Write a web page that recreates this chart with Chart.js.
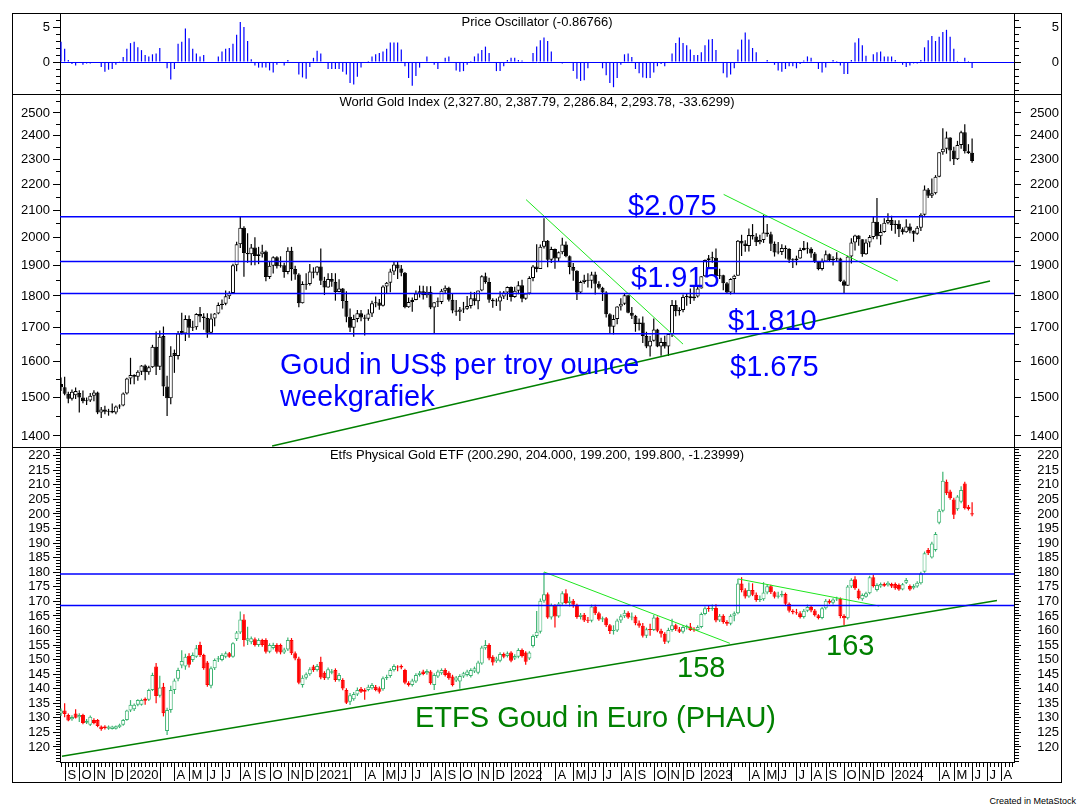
<!DOCTYPE html>
<html>
<head>
<meta charset="utf-8">
<script src="https://cdn.jsdelivr.net/npm/chart.js"></script>
<style>
body { margin: 0; background: #fff; font-family: "Liberation Sans", Arial, sans-serif; }
#page { position: relative; width: 1079px; height: 811px; overflow: hidden; }
canvas { position: absolute; left: 12px; }
.rule { position: absolute; background: #000; }
#credit { position: absolute; right: 3px; top: 796px; font-size: 9px; color: #000; }
</style>
</head>
<body>
<div id="page">
  <canvas id="osc" width="1047" height="80" style="top:14px"></canvas>
  <canvas id="gold" width="1047" height="352" style="top:95px"></canvas>
  <canvas id="etf" width="1047" height="334" style="top:448px"></canvas>
  <div class="rule" style="left:12px;top:13px;width:1050px;height:1px"></div>
  <div class="rule" style="left:12px;top:94px;width:1050px;height:1px"></div>
  <div class="rule" style="left:12px;top:447px;width:1050px;height:1px"></div>
  <div class="rule" style="left:12px;top:782px;width:1050px;height:1px"></div>
  <div class="rule" style="left:12px;top:13px;width:1px;height:770px"></div>
  <div class="rule" style="left:1061px;top:13px;width:1px;height:770px"></div>
  <div id="credit">Created in MetaStock</div>
</div>
<script>
// weekly bars, first week ends Fri 30 Aug 2019, last one 7 Jun 2024
const firstWeek = Date.UTC(2019, 7, 30);

const oscValues = [
  2.9, 1.9, 0.3, -0.3, -0.5, 0, -0.4, -0.2, -0.2, 0,
  0, -0.7, -1.4, -1.1, -1.0, -0.4, 0.1, 0.7, 1.9, 2.7,
  2.9, 2.1, 1.7, 1.0, 0.8, 1.1, 1.2, 2.0, 0, -0.9,
  -2.5, -1.0, 2.6, 2.9, 4.8, 3.4, 1.9, 1.2, 0.8, 1.0,
  0, 0, -0.1, 0.8, 1.5, 1.9, 2.0, 2.6, 3.9, 5.7,
  5.0, 3.0, 0.4, -0.5, -0.8, -0.8, -0.8, -1.2, -1.5, -0.4,
  0, -0.5, 0.3, 0, 0, -1.8, -2.2, -2.4, -0.7, 0.6,
  1.6, 1.2, 0, -1.0, -1.0, -1.0, -1.0, -1.4, -1.8, -3.0,
  -3.2, -2.1, -0.8, 0, 0.15, 0.8, 1.1, 1.3, 1.5, 1.9,
  2.8, 2.8, 2.8, 1.8, -0.6, -2.3, -3.4, -2.0, -0.8, 0,
  0.8, 0, -0.4, -1.0, 0, 0.6, 0.8, 0, -1.2, -1.4,
  -1.3, -0.4, 0.15, 0.8, 1.2, 1.7, 2.2, 1.3, -0.15, -1.3,
  -1.3, -0.6, 0.3, 0.6, 0.6, 0.3, 0.2, 0, 0, 1.3,
  2.2, 3.1, 3.5, 3.0, 1.5, 0, 0, -0.2, 0, 0,
  -1.3, -2.4, -2.7, -2.6, -0.9, 0, 0, 0, -0.9, -1.9,
  -3.0, -3.6, -2.3, -0.4, 1.1, 1.2, 0.7, -1.0, -1.6, -2.2,
  -2.3, -2.3, -1.5, -0.6, -0.3, -0.6, 0, 1.2, 2.7, 3.5,
  2.7, 2.4, 1.8, 1.0, 1.0, 1.4, 2.4, 3.2, 3.3, 1.7,
  0, -1.6, -2.2, -1.8, -0.9, 1.8, 3.2, 4.2, 3.2, 2.0,
  1.4, 0, 0, 0.3, 0, -0.4, -1.2, -1.4, -1.0, -0.6,
  -0.6, -0.9, -0.3, 0.2, 0.8, 0.6, 0, -1.0, -1.5, -0.8,
  0, 0.3, 0.15, -0.5, -1.7, -1.7, 0.3, 2.8, 3.4, 2.4,
  0.9, 0, 1.1, 1.4, 1.5, 0.8, 0.8, 0.8, 0.3, 0,
  -0.4, -0.7, -0.5, -0.2, -0.2, 0.3, 2.1, 3.1, 3.7, 3.0,
  3.6, 4.3, 4.6, 3.6, 1.9, 0.15, 0, 0.6, 0.15, -0.87
];

const goldOpen = [
  1537, 1528, 1510, 1497, 1506, 1512, 1500, 1490, 1492, 1505,
  1514, 1460, 1468, 1462, 1464, 1460, 1476, 1479, 1511, 1552,
  1562, 1557, 1571, 1589, 1570, 1584, 1643, 1585, 1675, 1530,
  1498, 1625, 1616, 1690, 1683, 1727, 1700, 1702, 1743, 1735,
  1730, 1685, 1729, 1744, 1771, 1775, 1799, 1810, 1902, 1975,
  2035, 1944, 1940, 1964, 1934, 1940, 1950, 1862, 1900, 1930,
  1899, 1902, 1879, 1952, 1889, 1871, 1777, 1837, 1839, 1881,
  1877, 1898, 1850, 1828, 1856, 1847, 1813, 1824, 1784, 1734,
  1700, 1727, 1745, 1732, 1728, 1744, 1777, 1779, 1769, 1831,
  1843, 1881, 1905, 1891, 1877, 1764, 1781, 1787, 1808, 1815,
  1802, 1814, 1763, 1780, 1781, 1817, 1827, 1788, 1754, 1750,
  1757, 1759, 1768, 1793, 1783, 1818, 1865, 1846, 1788, 1783,
  1782, 1798, 1811, 1829, 1797, 1817, 1835, 1791, 1808, 1859,
  1898, 1889, 1966, 1988, 1921, 1958, 1925, 1947, 1974, 1933,
  1896, 1883, 1811, 1846, 1853, 1850, 1871, 1840, 1827, 1811,
  1742, 1703, 1727, 1766, 1775, 1802, 1747, 1737, 1712, 1716,
  1675, 1644, 1661, 1695, 1644, 1657, 1644, 1681, 1771, 1751,
  1755, 1797, 1799, 1793, 1798, 1824, 1865, 1920, 1926, 1928,
  1865, 1868, 1842, 1811, 1856, 1867, 1988, 1978, 1969, 2008,
  2003, 1982, 1990, 2017, 2011, 1977, 1946, 1948, 1962, 1958,
  1921, 1919, 1925, 1955, 1962, 1959, 1943, 1914, 1889, 1915,
  1940, 1919, 1924, 1925, 1848, 1833, 1932, 1981, 2006, 1993,
  1940, 1981, 2001, 2057, 2004, 2019, 2053, 2063, 2045, 2049,
  2029, 2018, 2039, 2024, 2013, 2035, 2083, 2179, 2155, 2165,
  2230, 2330, 2344, 2392, 2337, 2301, 2360, 2415, 2334, 2327.80
];
const goldHigh = [
  1555, 1557, 1516, 1522, 1527, 1520, 1519, 1500, 1512, 1520,
  1516, 1475, 1478, 1470, 1484, 1479, 1482, 1514, 1554, 1611,
  1564, 1575, 1590, 1592, 1588, 1649, 1689, 1692, 1704, 1560,
  1645, 1635, 1690, 1747, 1739, 1738, 1722, 1745, 1765, 1745,
  1745, 1744, 1746, 1779, 1789, 1818, 1815, 1907, 1984, 2075,
  2040, 2015, 1976, 2000, 1966, 1973, 1953, 1917, 1933, 1933,
  1933, 1911, 1965, 1966, 1900, 1875, 1848, 1875, 1906, 1895,
  1899, 1960, 1863, 1875, 1876, 1875, 1855, 1826, 1815, 1760,
  1740, 1755, 1755, 1740, 1758, 1785, 1798, 1790, 1835, 1846,
  1890, 1913, 1916, 1903, 1879, 1795, 1795, 1818, 1834, 1833,
  1832, 1832, 1780, 1795, 1823, 1834, 1830, 1809, 1787, 1765,
  1781, 1800, 1814, 1813, 1818, 1868, 1877, 1860, 1793, 1792,
  1815, 1816, 1831, 1831, 1830, 1848, 1853, 1810, 1865, 1903,
  1975, 1974, 2070, 1990, 1966, 1960, 1950, 1998, 1985, 1936,
  1910, 1885, 1850, 1870, 1875, 1880, 1880, 1848, 1830, 1815,
  1745, 1740, 1767, 1793, 1808, 1802, 1765, 1740, 1729, 1735,
  1688, 1675, 1729, 1697, 1670, 1676, 1682, 1787, 1786, 1764,
  1805, 1810, 1824, 1830, 1833, 1865, 1922, 1937, 1949, 1960,
  1890, 1870, 1846, 1858, 1870, 1990, 2009, 1989, 2032, 2048,
  2015, 2009, 2082, 2048, 2020, 1985, 1983, 1975, 1971, 1961,
  1926, 1935, 1963, 1987, 1982, 1965, 1948, 1916, 1925, 1953,
  1943, 1933, 1947, 1928, 1853, 1935, 1997, 2009, 2007, 1993,
  1993, 2008, 2075, 2146, 2047, 2070, 2088, 2079, 2062, 2062,
  2036, 2066, 2050, 2025, 2041, 2088, 2195, 2185, 2223, 2236,
  2330, 2432, 2418, 2393, 2353, 2378, 2422, 2450, 2364, 2387.79
];
const goldLow = [
  1518, 1506, 1485, 1492, 1496, 1460, 1485, 1480, 1488, 1490,
  1456, 1446, 1456, 1452, 1458, 1456, 1470, 1477, 1508, 1536,
  1536, 1546, 1562, 1547, 1563, 1582, 1562, 1576, 1504, 1451,
  1482, 1568, 1606, 1680, 1660, 1670, 1690, 1694, 1717, 1694,
  1670, 1682, 1705, 1742, 1757, 1770, 1790, 1808, 1882, 1962,
  1863, 1911, 1902, 1902, 1906, 1929, 1848, 1856, 1874, 1891,
  1894, 1860, 1872, 1850, 1853, 1764, 1776, 1820, 1834, 1858,
  1868, 1836, 1803, 1827, 1830, 1785, 1812, 1760, 1717, 1687,
  1673, 1717, 1720, 1677, 1722, 1733, 1764, 1756, 1766, 1808,
  1812, 1869, 1856, 1865, 1761, 1762, 1750, 1786, 1795, 1789,
  1794, 1758, 1684, 1765, 1774, 1808, 1782, 1745, 1737, 1721,
  1746, 1756, 1760, 1770, 1758, 1815, 1840, 1778, 1762, 1768,
  1753, 1790, 1787, 1782, 1794, 1806, 1780, 1788, 1805, 1848,
  1878, 1889, 1960, 1895, 1910, 1890, 1915, 1940, 1930, 1872,
  1850, 1787, 1807, 1840, 1828, 1825, 1805, 1822, 1784, 1732,
  1681, 1680, 1711, 1754, 1771, 1745, 1727, 1688, 1692, 1654,
  1639, 1615, 1659, 1642, 1617, 1638, 1616, 1672, 1736, 1738,
  1748, 1769, 1774, 1785, 1795, 1824, 1862, 1896, 1911, 1861,
  1856, 1819, 1808, 1805, 1809, 1867, 1934, 1949, 1950, 1992,
  1969, 1975, 1980, 2002, 1951, 1932, 1940, 1937, 1925, 1910,
  1893, 1902, 1924, 1953, 1942, 1928, 1910, 1885, 1884, 1913,
  1915, 1901, 1913, 1846, 1810, 1833, 1908, 1953, 1970, 1931,
  1938, 1965, 1993, 1993, 1973, 2016, 2047, 2024, 2013, 2001,
  2010, 2016, 2015, 1984, 2009, 2023, 2079, 2146, 2146, 2160,
  2228, 2319, 2324, 2292, 2277, 2298, 2344, 2325, 2323, 2286.84
];
const goldClose = [
  1528, 1510, 1497, 1516, 1518, 1500, 1490, 1492, 1505, 1514,
  1460, 1468, 1462, 1464, 1460, 1476, 1479, 1511, 1552, 1562,
  1557, 1571, 1589, 1570, 1584, 1643, 1585, 1673, 1530, 1498,
  1617, 1616, 1683, 1683, 1727, 1700, 1702, 1743, 1735, 1730,
  1685, 1729, 1744, 1771, 1775, 1799, 1810, 1902, 1975, 2035,
  1944, 1940, 1964, 1934, 1940, 1950, 1862, 1900, 1930, 1899,
  1902, 1879, 1952, 1889, 1871, 1777, 1839, 1839, 1881, 1877,
  1898, 1850, 1828, 1856, 1847, 1813, 1824, 1784, 1734, 1700,
  1727, 1745, 1732, 1728, 1744, 1777, 1779, 1769, 1831, 1843,
  1881, 1905, 1891, 1877, 1764, 1781, 1787, 1808, 1815, 1802,
  1814, 1763, 1780, 1781, 1817, 1827, 1788, 1754, 1750, 1757,
  1759, 1768, 1793, 1783, 1818, 1865, 1846, 1788, 1783, 1782,
  1798, 1811, 1829, 1797, 1817, 1835, 1791, 1808, 1859, 1898,
  1889, 1966, 1988, 1921, 1958, 1925, 1947, 1974, 1933, 1896,
  1883, 1811, 1846, 1853, 1850, 1871, 1840, 1827, 1811, 1742,
  1703, 1727, 1766, 1775, 1802, 1747, 1737, 1712, 1716, 1675,
  1644, 1661, 1695, 1644, 1657, 1644, 1681, 1771, 1751, 1755,
  1797, 1799, 1793, 1798, 1824, 1865, 1920, 1926, 1928, 1865,
  1868, 1842, 1811, 1856, 1867, 1988, 1978, 1969, 2008, 2003,
  1982, 1990, 2017, 2011, 1977, 1946, 1948, 1962, 1958, 1921,
  1919, 1925, 1955, 1962, 1959, 1943, 1914, 1889, 1915, 1940,
  1919, 1924, 1925, 1848, 1833, 1932, 1981, 2006, 1993, 1940,
  1981, 2001, 2057, 2004, 2019, 2053, 2063, 2045, 2049, 2029,
  2018, 2039, 2024, 2013, 2035, 2083, 2179, 2155, 2165, 2230,
  2330, 2344, 2392, 2337, 2301, 2360, 2415, 2334, 2327, 2293.78
];

const etfOpen = [
  131.5, 132.5, 131.0, 129.5, 131.5, 130.2, 131.0, 128.3, 127.6, 129.3,
  129.3, 127.0, 127.0, 126.3, 126.2, 126.3, 126.8, 127.6, 129.3, 132.5,
  133.0, 134.5, 134.5, 136.6, 136.2, 139.6, 147.6, 137.6, 140.7, 125.5,
  132.7, 139.6, 143.4, 148.0, 147.6, 151.3, 149.9, 151.0, 155.0, 151.6,
  149.0, 141.0, 147.0, 150.0, 149.9, 151.0, 152.2, 151.0, 157.0, 159.3,
  163.8, 156.5, 156.0, 157.0, 155.0, 156.7, 156.7, 152.7, 154.0, 155.0,
  155.0, 152.4, 153.5, 156.7, 152.2, 150.4, 141.3, 143.8, 145.0, 147.6,
  146.4, 149.3, 145.5, 143.6, 145.5, 146.4, 143.0, 143.0, 139.6, 135.5,
  136.4, 138.0, 140.0, 139.6, 139.6, 140.2, 140.7, 140.2, 139.8, 143.6,
  144.4, 146.4, 147.5, 147.8, 146.4, 142.1, 141.3, 142.5, 144.7, 145.9,
  145.3, 145.9, 141.3, 144.2, 145.3, 146.4, 145.5, 144.2, 142.8, 142.5,
  144.2, 144.7, 144.4, 145.9, 145.5, 148.7, 153.9, 155.0, 151.0, 149.4,
  149.6, 151.9, 151.2, 152.4, 150.4, 151.0, 153.3, 152.4, 150.4, 154.7,
  158.1, 159.6, 170.2, 172.4, 164.5, 168.7, 164.8, 169.3, 172.8, 169.4,
  170.2, 168.8, 164.6, 165.4, 163.4, 163.3, 168.2, 165.9, 163.8, 164.2,
  161.8, 159.8, 160.0, 163.4, 164.9, 166.1, 164.5, 164.7, 162.5, 161.6,
  158.2, 160.4, 160.2, 164.5, 159.9, 158.9, 156.1, 160.2, 161.8, 160.4,
  159.6, 161.2, 161.4, 160.2, 160.1, 161.2, 165.7, 167.6, 167.4, 167.7,
  163.4, 165.1, 162.9, 162.3, 165.1, 165.9, 176.1, 173.8, 171.7, 173.9,
  172.3, 170.5, 170.7, 173.0, 175.2, 173.1, 171.6, 172.0, 172.5, 169.2,
  166.8, 166.3, 165.9, 164.6, 166.8, 168.1, 166.9, 165.2, 164.3, 167.6,
  170.2, 169.5, 170.6, 170.9, 165.0, 164.2, 175.1, 177.6, 173.7, 170.7,
  171.6, 172.8, 178.3, 173.9, 175.1, 176.0, 175.5, 176.0, 176.0, 175.6,
  174.1, 176.4, 175.3, 174.5, 175.1, 176.2, 180.2, 187.6, 185.1, 187.6,
  197.0, 201.1, 211.1, 207.7, 205.0, 201.6, 204.2, 210.5, 202.5, 200.29
];
const etfHigh = [
  133.2, 135.0, 131.5, 130.9, 133.0, 131.6, 131.4, 129.6, 130.8, 129.9,
  129.6, 127.4, 127.5, 127.4, 127.3, 127.4, 128.0, 129.6, 132.8, 136.1,
  134.9, 136.4, 136.6, 137.0, 140.0, 145.5, 148.8, 144.5, 142.0, 133.5,
  141.0, 143.5, 147.2, 153.2, 152.0, 152.2, 152.4, 155.0, 156.1, 152.0,
  149.5, 147.6, 150.4, 151.2, 152.2, 152.8, 152.6, 156.0, 159.8, 166.5,
  165.6, 161.3, 157.9, 157.6, 157.3, 157.2, 157.3, 155.6, 155.8, 155.6,
  155.5, 154.1, 157.6, 157.4, 152.8, 151.0, 144.6, 145.6, 147.4, 148.2,
  148.5, 151.0, 146.0, 147.3, 146.8, 147.0, 145.4, 143.6, 140.2, 138.5,
  138.9, 140.4, 140.6, 140.2, 141.4, 142.0, 141.3, 140.8, 144.2, 144.8,
  147.0, 148.4, 148.1, 148.3, 146.9, 142.6, 143.4, 145.3, 146.1, 146.5,
  146.7, 146.4, 145.3, 146.5, 147.0, 147.0, 146.0, 144.8, 144.4, 145.0,
  145.8, 146.5, 147.0, 147.6, 149.6, 154.8, 156.7, 155.6, 151.5, 151.0,
  152.5, 152.4, 152.8, 152.9, 151.8, 153.9, 153.8, 152.9, 152.9, 158.6,
  166.7, 171.0, 180.0, 173.0, 169.3, 169.0, 169.8, 173.5, 174.2, 171.6,
  170.8, 169.2, 166.0, 166.0, 164.6, 168.9, 168.8, 166.4, 164.8, 164.6,
  162.2, 161.8, 164.0, 165.6, 167.0, 166.6, 166.2, 165.2, 163.4, 162.6,
  161.0, 162.3, 165.3, 164.8, 160.6, 159.4, 160.9, 164.0, 162.3, 161.2,
  161.9, 162.0, 162.6, 161.1, 161.8, 166.2, 168.2, 168.7, 168.9, 169.0,
  165.7, 165.6, 163.5, 165.6, 166.5, 177.8, 178.3, 174.5, 176.5, 176.2,
  173.0, 172.0, 176.6, 175.8, 175.7, 173.5, 173.3, 173.6, 173.0, 169.6,
  167.3, 167.4, 166.6, 167.4, 168.9, 168.6, 167.4, 165.6, 168.1, 170.8,
  170.7, 171.1, 171.6, 171.3, 165.6, 175.6, 177.9, 178.6, 174.3, 172.7,
  173.3, 178.8, 179.1, 176.2, 176.5, 176.5, 176.9, 176.4, 176.5, 176.1,
  176.3, 178.0, 175.8, 175.9, 176.9, 180.2, 187.1, 188.3, 190.5, 193.8,
  201.7, 214.5, 211.8, 208.3, 205.6, 206.5, 209.5, 211.1, 203.1, 204.0
];
const etfLow = [
  130.6, 130.2, 128.8, 129.0, 129.8, 128.6, 127.8, 127.9, 127.2, 127.8,
  126.8, 125.6, 126.0, 125.9, 126.0, 126.0, 126.5, 127.3, 129.0, 132.0,
  132.4, 134.0, 134.2, 134.5, 135.8, 139.2, 135.0, 137.0, 130.5, 124.1,
  131.8, 138.2, 142.6, 147.0, 146.5, 147.3, 149.2, 150.6, 150.9, 146.5,
  140.7, 140.2, 146.4, 149.2, 149.4, 150.5, 150.6, 150.6, 156.4, 158.8,
  154.5, 155.0, 155.3, 154.5, 154.4, 154.4, 152.1, 152.2, 153.5, 152.1,
  151.8, 151.9, 153.0, 151.6, 149.8, 141.5, 140.4, 143.2, 144.5, 145.8,
  145.9, 143.3, 143.0, 143.1, 145.0, 142.4, 142.5, 139.5, 134.8, 134.4,
  135.9, 137.5, 138.5, 136.2, 139.1, 139.7, 139.1, 138.4, 139.3, 143.0,
  143.8, 145.9, 146.0, 146.7, 141.5, 140.8, 140.8, 142.0, 144.2, 144.6,
  144.8, 141.4, 139.6, 143.7, 144.8, 144.2, 143.1, 140.8, 142.3, 140.0,
  143.7, 144.2, 143.9, 145.4, 145.0, 148.2, 153.4, 149.8, 148.0, 148.9,
  149.1, 150.5, 150.7, 149.1, 149.9, 150.5, 150.7, 148.2, 149.9, 154.2,
  157.4, 159.0, 169.5, 164.0, 163.8, 161.0, 164.4, 168.8, 169.0, 168.2,
  167.8, 164.0, 163.8, 162.9, 162.6, 162.8, 165.3, 163.3, 162.9, 161.2,
  158.8, 158.6, 159.5, 162.6, 164.3, 164.0, 163.5, 161.8, 160.9, 157.6,
  157.4, 158.2, 159.8, 159.4, 157.6, 155.4, 155.6, 159.6, 159.8, 159.1,
  159.0, 160.3, 159.8, 159.6, 159.8, 160.8, 165.2, 166.4, 166.8, 162.8,
  162.9, 162.3, 161.6, 161.8, 163.2, 165.6, 173.1, 171.0, 171.2, 171.8,
  169.9, 169.8, 170.2, 172.4, 172.5, 171.0, 171.0, 171.4, 168.7, 166.2,
  165.6, 165.4, 164.1, 164.1, 166.3, 166.3, 164.8, 163.8, 163.9, 167.2,
  169.0, 168.9, 170.1, 164.2, 161.8, 163.8, 174.6, 174.0, 170.6, 170.2,
  171.2, 172.4, 174.8, 173.4, 174.7, 175.0, 175.1, 174.6, 174.0, 173.6,
  173.8, 176.0, 173.6, 174.1, 174.7, 175.8, 179.8, 185.9, 184.7, 187.1,
  196.5, 200.6, 206.5, 204.9, 198.3, 201.1, 203.7, 201.5, 201.2, 199.2
];
const etfClose = [
  132.5, 131.3, 129.1, 130.3, 130.0, 131.0, 128.2, 129.0, 130.4, 128.2,
  127.2, 126.1, 126.5, 127.0, 127.0, 127.1, 127.6, 129.3, 132.5, 134.5,
  134.5, 136.1, 136.1, 135.9, 139.6, 144.7, 137.5, 140.4, 131.6, 132.7,
  139.6, 142.8, 146.4, 149.5, 151.0, 148.2, 151.6, 153.9, 151.6, 147.0,
  141.3, 147.0, 149.9, 150.5, 151.6, 152.2, 151.0, 155.6, 159.3, 163.8,
  156.7, 157.3, 157.3, 155.0, 156.7, 155.0, 152.7, 155.0, 155.0, 152.7,
  152.4, 153.5, 156.7, 152.2, 150.4, 142.1, 143.8, 145.0, 146.7, 146.4,
  147.8, 143.9, 143.6, 146.7, 146.0, 143.0, 144.7, 140.1, 135.2, 137.8,
  138.2, 139.6, 139.0, 139.0, 140.7, 141.3, 139.6, 139.0, 143.6, 144.0,
  146.4, 147.8, 147.3, 147.3, 142.1, 141.3, 142.8, 144.7, 145.5, 145.1,
  146.1, 141.9, 144.7, 145.9, 146.4, 144.7, 143.6, 141.3, 143.9, 144.4,
  145.3, 145.9, 146.4, 147.0, 149.0, 154.2, 155.0, 150.4, 149.0, 150.4,
  151.9, 151.0, 152.2, 149.6, 151.2, 153.3, 151.2, 149.3, 152.4, 158.1,
  159.6, 170.2, 172.4, 164.5, 168.7, 164.8, 169.3, 172.8, 169.4, 170.2,
  168.8, 164.6, 165.4, 163.4, 163.3, 168.2, 165.9, 163.8, 164.2, 161.8,
  159.8, 160.0, 163.4, 164.9, 166.1, 164.5, 164.7, 162.5, 161.6, 158.2,
  160.4, 160.2, 164.5, 159.9, 158.9, 156.1, 160.2, 161.8, 160.4, 159.6,
  161.2, 161.4, 160.2, 160.1, 161.2, 165.7, 167.6, 167.4, 167.7, 163.4,
  165.1, 162.9, 162.3, 165.1, 165.9, 176.1, 173.8, 171.7, 173.9, 172.3,
  170.5, 170.7, 173.0, 175.2, 173.1, 171.6, 172.0, 172.5, 169.2, 166.8,
  166.3, 165.9, 164.6, 166.8, 168.1, 166.9, 165.2, 164.3, 167.6, 170.2,
  169.5, 170.6, 170.9, 165.0, 164.2, 175.1, 177.4, 174.5, 171.1, 172.2,
  172.8, 178.3, 175.3, 175.6, 176.0, 175.4, 176.4, 175.1, 174.5, 174.1,
  175.9, 177.3, 174.1, 175.3, 176.4, 179.6, 186.5, 186.5, 189.9, 193.1,
  201.1, 211.4, 207.1, 205.4, 199.7, 206.0, 208.2, 202.0, 201.7, 199.8
];

// drawn support / resistance levels and trend lines: [week index, value]
const goldLevels = [2075, 1915, 1808, 1682];
const etfLevels = [179.4, 168.6];
const goldTrendMain = [[57.7, 1375], [253.9, 1849]];
const goldTrendDown = [[[127.1, 2140], [170.0, 1651]], [[181.1, 2160], [228.7, 1849]]];
const etfTrendMain = [[0.27, 116.8], [255.8, 170.3]];
const etfTrendDown = [[[132.0, 180.1], [182.8, 155.6]], [[185.1, 177.7], [223.6, 168.4]]];

// tick labels
const oscLabels = [0, 5];
const goldLabels = [1400, 1500, 1600, 1700, 1800, 1900, 2000, 2100, 2200, 2300, 2400, 2500];
const etfLabels = [120, 125, 130, 135, 140, 145, 150, 155, 160, 165, 170, 175, 180, 185, 190, 195, 200, 205, 210, 215, 220];
const monthLabels = ['S', 'O', 'N', 'D',
  '2020', null, '', 'A', 'M', 'J', 'J', 'A', 'S', 'O', 'N', 'D',
  '2021', null, '', 'A', 'M', 'J', 'J', 'A', 'S', 'O', 'N', 'D',
  '2022', null, '', 'A', 'M', 'J', 'J', 'A', 'S', 'O', 'N', 'D',
  '2023', null, '', 'A', 'M', 'J', 'J', 'A', 'S', 'O', 'N', 'D',
  '2024', null, '', 'A', 'M', 'J', 'J', 'A'];

const FONT = '"Liberation Sans", Arial, sans-serif';
const X_MIN = -0.27, X_MAX = 260.45;
const WEEK_MS = 7 * 24 * 3600 * 1000;
const BLUE = '#0000ff', LIME = '#1ee61e', DARK_GREEN = '#008000';
const ETF_UP = '#3cb371', ETF_DOWN = '#ff0000';

Chart.defaults.font.family = FONT;
Chart.defaults.color = '#000';

const panelText = {
  id: 'panelText',
  afterDraw(chart, args, opts) {
    const ctx = chart.ctx, a = chart.chartArea;
    ctx.save();
    ctx.textBaseline = 'alphabetic';
    ctx.fillStyle = '#000';
    ctx.font = '13px ' + FONT;
    ctx.textAlign = 'center';
    ctx.fillText(opts.title, (a.left + a.right) / 2, a.top + opts.titleY);
    ctx.textAlign = 'left';
    (opts.notes || []).forEach(n => {
      ctx.font = '29px ' + FONT;
      ctx.fillStyle = n.color;
      ctx.fillText(n.text, n.x, n.y);
    });
    ctx.restore();
  }
};

const timeAxis = {
  id: 'timeAxis',
  afterDraw(chart) {
    const ctx = chart.ctx, a = chart.chartArea, xs = chart.scales.x;
    ctx.save();
    ctx.strokeStyle = '#000';
    ctx.lineWidth = 1;
    ctx.beginPath();
    ctx.moveTo(a.left, a.bottom + 0.5);
    ctx.lineTo(a.right, a.bottom + 0.5);
    for (let k = 0; k <= Math.floor(X_MAX); k++) {
      const x = Math.round(xs.getPixelForValue(k)) + 0.5;
      ctx.moveTo(x, a.bottom);
      ctx.lineTo(x, a.bottom + 5);
    }
    ctx.stroke();
    ctx.font = '13px ' + FONT;
    ctx.fillStyle = '#000';
    ctx.textAlign = 'left';
    monthLabels.forEach((lab, m) => {
      if (lab === null) return;
      const k = Math.ceil((Date.UTC(2019, 8 + m, 1) - firstWeek) / WEEK_MS);
      const x = Math.round(xs.getPixelForValue(k)) + 0.5;
      ctx.beginPath();
      ctx.moveTo(x, a.bottom);
      ctx.lineTo(x, a.bottom + 19);
      ctx.stroke();
      if (lab) ctx.fillText(lab, x + 2, a.bottom + 17);
    });
    ctx.restore();
  }
};

function yAxis(pos, type, min, max, step, labels, zeroColor) {
  const isLabel = v => labels.some(l => Math.abs(l - v) < 1e-6);
  return {
    type: type, position: pos, min: min, max: max, bounds: 'data',
    afterBuildTicks(ax) {
      const t = [];
      for (let v = Math.ceil(min / step) * step; v <= max; v += step) t.push({ value: Math.round(v * 100) / 100 });
      ax.ticks = t;
    },
    afterFit(ax) {
      ax.width = pos === 'left' ? 48 : 45;
      ax.paddingTop = 0;
      ax.paddingBottom = 0;
    },
    ticks: {
      autoSkip: false, padding: 3, color: '#000', font: { size: 13 },
      crossAlign: pos === 'left' ? 'near' : 'far',
      callback: v => isLabel(v) ? String(v) : ''
    },
    grid: {
      drawOnChartArea: !!zeroColor,
      color: c => (zeroColor && c.tick && c.tick.value === 0) ? zeroColor : 'rgba(0,0,0,0)',
      lineWidth: 1,
      tickColor: '#000', tickLength: 7, tickWidth: 1,
      tickBorderDash: c => (c.tick && isLabel(c.tick.value)) ? [] : (pos === 'left' ? [0, 3, 4, 0] : [4, 10])
    },
    border: { display: true, color: '#000', width: 1 }
  };
}

const xAxis = { type: 'linear', min: X_MIN, max: X_MAX, display: false, offset: false, bounds: 'data' };

function segment(p0, p1, color, width) {
  return {
    type: 'line', data: [{ x: p0[0], y: p0[1] }, { x: p1[0], y: p1[1] }],
    borderColor: color, borderWidth: width, pointRadius: 0, tension: 0, yAxisID: 'yL', order: 0
  };
}

function levelLine(v) {
  return segment([X_MIN, v], [X_MAX, v], BLUE, 1.5);
}

function candles(open, high, low, close, upFill, upLine, downColor) {
  const up = open.map((o, i) => close[i] >= o);
  return [
    {
      type: 'bar', yAxisID: 'yL', order: 2, grouped: false, barThickness: 1.2, inflateAmount: 0,
      data: high.map((h, i) => ({ x: i, y: [low[i], h] })),
      backgroundColor: up.map(u => u ? upLine : downColor)
    },
    {
      type: 'bar', yAxisID: 'yL', order: 1, grouped: false, barThickness: 4, minBarLength: 1,
      borderWidth: 1, borderSkipped: false, inflateAmount: 0,
      data: open.map((o, i) => ({ x: i, y: [Math.min(o, close[i]), Math.max(o, close[i])] })),
      backgroundColor: up.map(u => u ? upFill : downColor),
      borderColor: up.map(u => u ? upLine : downColor)
    }
  ];
}

function baseOptions(yL, yR, textOpts, padBottom) {
  return {
    responsive: false, animation: false, events: [],
    layout: { padding: { left: 0, right: 0, top: 0, bottom: padBottom } },
    plugins: { legend: { display: false }, tooltip: { enabled: false }, panelText: textOpts },
    scales: { x: xAxis, yL: yL, yR: yR }
  };
}

// price oscillator
new Chart(document.getElementById('osc'), {
  type: 'bar',
  data: {
    datasets: [{
      type: 'bar', yAxisID: 'yL', grouped: false, barThickness: 1.2, inflateAmount: 0,
      data: oscValues.map((v, i) => ({ x: i, y: v })),
      backgroundColor: BLUE
    }]
  },
  options: baseOptions(
    yAxis('left', 'linear', -4.57, 6.86, 1, oscLabels, BLUE),
    yAxis('right', 'linear', -4.57, 6.86, 1, oscLabels, null),
    { title: 'Price Oscillator (-0.86766)', titleY: 12 }, 0),
  plugins: [panelText]
});

// gold in US$, log scale
new Chart(document.getElementById('gold'), {
  type: 'bar',
  data: {
    datasets: [
      ...goldLevels.map(levelLine),
      segment(goldTrendMain[0], goldTrendMain[1], DARK_GREEN, 1.5),
      ...goldTrendDown.map(s => segment(s[0], s[1], LIME, 1)),
      ...candles(goldOpen, goldHigh, goldLow, goldClose, '#ffffff', '#000000', '#000000')
    ]
  },
  options: baseOptions(
    yAxis('left', 'logarithmic', 1372.6, 2582, 50, goldLabels, null),
    yAxis('right', 'logarithmic', 1372.6, 2582, 50, goldLabels, null),
    {
      title: 'World Gold Index (2,327.80, 2,387.79, 2,286.84, 2,293.78, -33.6299)', titleY: 11,
      notes: [
        { text: '$2.075', x: 616, y: 120, color: BLUE },
        { text: '$1.915', x: 619, y: 192, color: BLUE },
        { text: '$1.810', x: 716, y: 235, color: BLUE },
        { text: '$1.675', x: 718, y: 281, color: BLUE },
        { text: 'Goud in US$ per troy ounce', x: 268, y: 279, color: BLUE },
        { text: 'weekgrafiek', x: 268, y: 311, color: BLUE }
      ]
    }, 0),
  plugins: [panelText]
});

// ETF in euro
new Chart(document.getElementById('etf'), {
  type: 'bar',
  data: {
    datasets: [
      ...etfLevels.map(levelLine),
      segment(etfTrendMain[0], etfTrendMain[1], DARK_GREEN, 1.5),
      ...etfTrendDown.map(s => segment(s[0], s[1], LIME, 1)),
      ...candles(etfOpen, etfHigh, etfLow, etfClose, '#ffffff', ETF_UP, ETF_DOWN)
    ]
  },
  options: baseOptions(
    yAxis('left', 'linear', 114.85, 222.65, 1, etfLabels, null),
    yAxis('right', 'linear', 114.85, 222.65, 1, etfLabels, null),
    {
      title: 'Etfs Physical Gold ETF (200.290, 204.000, 199.200, 199.800, -1.23999)', titleY: 11,
      notes: [
        { text: '158', x: 665, y: 229, color: DARK_GREEN },
        { text: '163', x: 814, y: 207, color: DARK_GREEN },
        { text: 'ETFS Goud in Euro (PHAU)', x: 403, y: 279, color: DARK_GREEN }
      ]
    }, 20),
  plugins: [panelText, timeAxis]
});
</script>
</body>
</html>
